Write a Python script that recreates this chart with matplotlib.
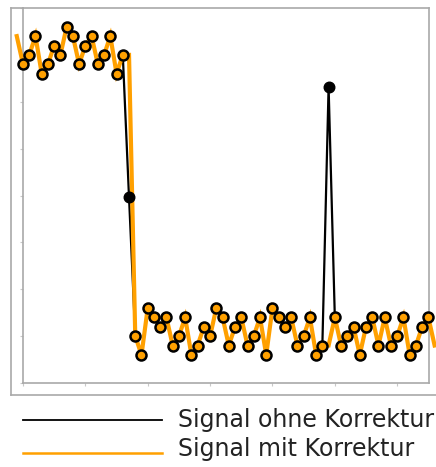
import numpy as np
import matplotlib
matplotlib.use("Agg")
import matplotlib.pyplot as plt
from matplotlib.lines import Line2D

# Raw measurement samples (index 0..65)
raw_signal = [85, 87.5, 92.5, 82.5, 85, 90, 87.5, 95, 92.5, 85, 90, 92.5, 85, 87.5, 92.5, 82.5, 87.5,
              49.5,
              12.5, 7.5, 20, 17.5, 15, 17.5, 10, 12.5, 17.5, 7.5, 10, 15, 12.5, 20, 17.5, 10,
              15, 17.5, 10, 12.5, 17.5, 7.5, 20, 17.5, 15, 17.5, 10, 12.5, 17.5, 7.5, 10,
              79,
              17.5, 10, 12.5, 15, 7.5, 15, 17.5, 10, 17.5, 10, 12.5, 17.5, 7.5, 10, 15, 17.5]

# Corrected signal (index -1..66), outliers replaced by the preceding value
corrected_signal = [92.5,
                    85, 87.5, 92.5, 82.5, 85, 90, 87.5, 95, 92.5, 85, 90, 92.5, 85, 87.5, 92.5, 82.5, 87.5,
                    87.5,
                    12.5, 7.5, 20, 17.5, 15, 17.5, 10, 12.5, 17.5, 7.5, 10, 15, 12.5, 20, 17.5, 10,
                    15, 17.5, 10, 12.5, 17.5, 7.5, 20, 17.5, 15, 17.5, 10, 12.5, 17.5, 7.5, 10,
                    10,
                    17.5, 10, 12.5, 15, 7.5, 15, 17.5, 10, 17.5, 10, 12.5, 17.5, 7.5, 10, 15, 17.5,
                    10]

outlier_index = [17, 49]

legend_labels = ["Signal ohne Korrektur", "Signal mit Korrektur"]

ORANGE = "#FFA000"
FRAME = "#A9A9A9"
TEXT = "#222222"

raw = np.array(raw_signal, dtype=float)
x_raw = np.arange(len(raw))
corr = np.array(corrected_signal, dtype=float)
x_corr = np.arange(-1, len(corr) - 1)
is_outlier = np.isin(x_raw, outlier_index)

W, H = 436, 467
fig = plt.figure(figsize=(W / 100, H / 100), dpi=100)
plt.rcParams['font.family'] = ['DejaVu Sans']


def fig_line(x0, y0, x1, y1, **kw):
    fig.add_artist(Line2D([x0 / W, x1 / W], [1 - y0 / H, 1 - y1 / H],
                          transform=fig.transFigure, **kw))


# outer panel frame (open to the right)
fig_line(11, 8, 23, 8, color=FRAME, lw=1.2)
fig_line(11, 8, 11, 395, color=FRAME, lw=1.2)
fig_line(11, 395, 440, 395, color=FRAME, lw=1.2)

ax = fig.add_axes([23 / W, 1 - 383 / H, (429 - 23) / W, (383 - 8) / H])
ax.set_xlim(0, 65.1)
ax.set_ylim(0, 100)
for s in ax.spines.values():
    s.set_color(FRAME)
    s.set_linewidth(1.2)
ax.set_xticks(np.arange(0, 61, 10))
ax.set_yticks(np.arange(0, 100.1, 12.5))
ax.tick_params(length=2.5, width=0.8, color="#C8C8C8",
               labelbottom=False, labelleft=False)

ax.plot(x_raw, raw, color="black", lw=1.6, zorder=2, clip_on=False)
ax.plot(x_corr, corr, color=ORANGE, lw=3.0, zorder=3, clip_on=False,
        solid_joinstyle="miter")
ax.plot(x_raw[~is_outlier], raw[~is_outlier], ls="none", marker="o", ms=7.2,
        mfc=ORANGE, mec="black", mew=1.8, zorder=4, clip_on=False)
ax.plot(x_raw[is_outlier], raw[is_outlier], ls="none", marker="o", ms=7.6,
        mfc="black", mec="black", mew=1.0, zorder=5, clip_on=False)

# legend below the panel
for i, (label, col, lw) in enumerate(zip(legend_labels, ["black", ORANGE], [1.3, 1.8])):
    y_line = 419.5 + 33.3 * i
    fig_line(23, y_line, 162, y_line, color=col, lw=lw)
    fig.text(178 / W, 1 - (427.3 + 28.4 * i) / H, label, fontsize=17.0,
             color=TEXT, va="baseline", ha="left")

fig.savefig("out.png", dpi=100)
